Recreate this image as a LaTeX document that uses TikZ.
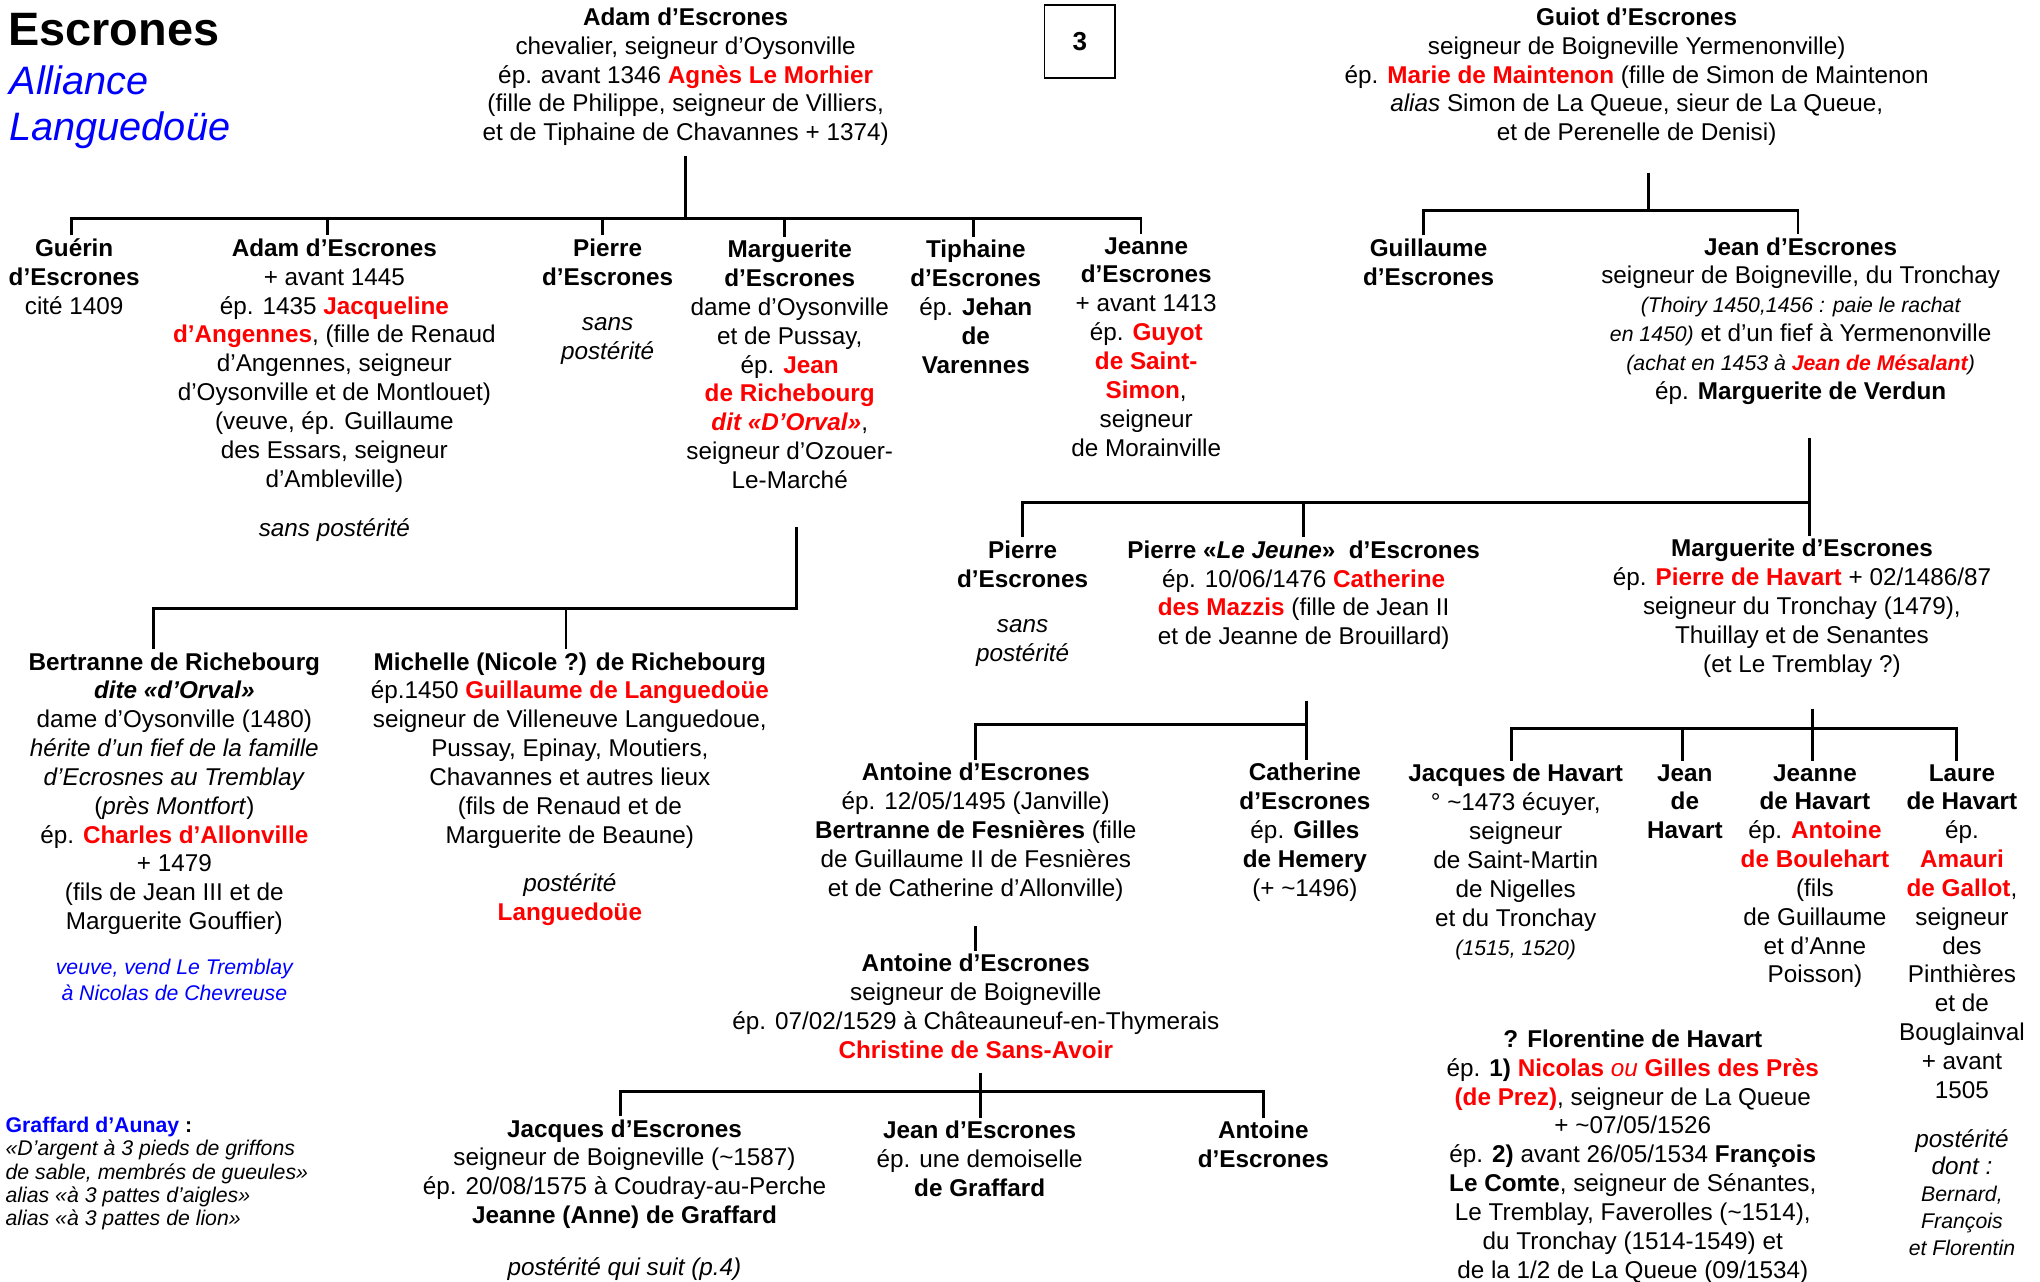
\documentclass[tikz,border=0pt]{standalone}
\usepackage{fontspec}
\setmainfont{Liberation Sans}
\definecolor{myred}{RGB}{255,0,0}
\definecolor{myblue}{RGB}{0,0,255}
\newcommand\bodyfont{\fontsize{11.2}{13.3}\selectfont}
\newcommand\smallfont{\fontsize{9.8}{12}\selectfont}
\newcommand\redb[1]{\textcolor{myred}{\bfseries #1}}
\tikzset{
  person/.style={anchor=north, align=center, inner sep=0pt, outer sep=1.5pt, font=\bodyfont},
  remark/.style={anchor=north, align=center, inner sep=0pt, font={\bodyfont\itshape}},
  link/.style={line width=1.3pt},
}
\begin{document}
\begin{tikzpicture}[x=0.6pt,y=-0.6pt]
\useasboundingbox (0,0) rectangle (1568,985);

% titles
\node[anchor=base west, inner sep=0pt, font=\fontsize{21.6}{26}\selectfont\bfseries] (title) at (6,35) {Escrones};
\node[anchor=base west, inner sep=0pt, align=left, font=\fontsize{18.3}{21}\selectfont\itshape, text=myblue] (subtitle) at (7,108) {Alliance\\Languedoüe};
\node[draw, line width=0.7pt, minimum width=32.4pt, minimum height=33.6pt, inner sep=0pt, font=\fontsize{12}{14}\selectfont\bfseries] (box3) at (830,32) {3};

% generation 1
\node[person] (adam) at (527,3.5) {\textbf{Adam d’Escrones}\\
chevalier, seigneur d’Oysonville\\
ép. avant 1346 \redb{Agnès Le Morhier}\\
(fille de Philippe, seigneur de Villiers,\\
et de Tiphaine de Chavannes + 1374)};

\node[person] (guiot) at (1258,3.5) {\textbf{Guiot d’Escrones}\\
seigneur de Boigneville Yermenonville)\\
ép. \redb{Marie de Maintenon} (fille de Simon de Maintenon\\
\textit{alias} Simon de La Queue, sieur de La Queue,\\
et de Perenelle de Denisi)};

% generation 2
\node[person] (guerin) at (57,181) {\textbf{Guérin}\\\textbf{d’Escrones}\\cité 1409};

\node[person] (adam2) at (257,181) {\textbf{Adam d’Escrones}\\
+ avant 1445\\
ép. 1435 \redb{Jacqueline}\\
\redb{d’Angennes}, (fille de Renaud\\
d’Angennes, seigneur\\
d’Oysonville et de Montlouet)\\
(veuve, ép. Guillaume\\
des Essars, seigneur\\
d’Ambleville)};
\node[remark] (adam2note) at (257,398) {sans postérité};

\node[person] (pierre1) at (467,181) {\textbf{Pierre}\\\textbf{d’Escrones}};
\node[remark] (pierre1note) at (467,244) {sans\\postérité};

\node[person] (marg1) at (607,182) {\textbf{Marguerite}\\\textbf{d’Escrones}\\
dame d’Oysonville\\
et de Pussay,\\
ép. \redb{Jean}\\
\redb{de Richebourg}\\
\redb{\itshape dit «D’Orval»},\\
seigneur d’Ozouer-\\
Le-Marché};

\node[person] (tiph) at (750,182) {\textbf{Tiphaine}\\\textbf{d’Escrones}\\ép. \textbf{Jehan}\\\textbf{de}\\\textbf{Varennes}};

\node[person] (jeanne1) at (881,180) {\textbf{Jeanne}\\\textbf{d’Escrones}\\
+ avant 1413\\
ép. \redb{Guyot}\\
\redb{de Saint-}\\
\redb{Simon},\\
seigneur\\
de Morainville};

\node[person] (guill) at (1098,181) {\textbf{Guillaume}\\\textbf{d’Escrones}};

\node[person] (jean1) at (1384,180) {\textbf{Jean d’Escrones}\\
seigneur de Boigneville, du Tronchay\\
{\smallfont\itshape (Thoiry 1450,1456 : paie le rachat}\\
{\smallfont\itshape en 1450)} et d’un fief à Yermenonville\\
{\smallfont\itshape (achat en 1453 à \redb{Jean de Mésalant})}\\
ép. \textbf{Marguerite de Verdun}};

% generation 3
\node[person] (pierre2) at (786,413) {\textbf{Pierre}\\\textbf{d’Escrones}};
\node[remark] (pierre2note) at (786,476) {sans\\postérité};

\node[person] (pierrej) at (1002,413) {\textbf{Pierre «\textit{Le Jeune}»\ \ d’Escrones}\\
ép. 10/06/1476 \redb{Catherine}\\
\redb{des Mazzis} (fille de Jean II\\
et de Jeanne de Brouillard)};

\node[person] (marg2) at (1385,412) {\textbf{Marguerite d’Escrones}\\
ép. \redb{Pierre de Havart} + 02/1486/87\\
seigneur du Tronchay (1479),\\
Thuillay et de Senantes\\
(et Le Tremblay ?)};

\node[person] (bert) at (134,499) {\textbf{Bertranne de Richebourg}\\
\textbf{\textit{dite «d’Orval»}}\\
dame d’Oysonville (1480)\\
\textit{hérite d’un fief de la famille}\\
\textit{d’Ecrosnes au Tremblay}\\
(\textit{près Montfort})\\
ép. \redb{Charles d’Allonville}\\
+ 1479\\
(fils de Jean III et de\\
Marguerite Gouffier)};
\node[remark, font=\fontsize{9.8}{12}\selectfont\itshape, text=myblue] (bertnote) at (134,737) {veuve, vend Le Tremblay\\à Nicolas de Chevreuse};

\node[person] (mich) at (438,499) {\textbf{Michelle (Nicole ?) de Richebourg}\\
ép.1450 \redb{Guillaume de Languedoüe}\\
seigneur de Villeneuve Languedoue,\\
Pussay, Epinay, Moutiers,\\
Chavannes et autres lieux\\
(fils de Renaud et de\\
Marguerite de Beaune)};
\node[remark] (michnote) at (438,671) {postérité\\\redb{\upshape Languedoüe}};

% generation 4
\node[person] (ant1) at (750,584) {\textbf{Antoine d’Escrones}\\
ép. 12/05/1495 (Janville)\\
\textbf{Bertranne de Fesnières} (fille\\
de Guillaume II de Fesnières\\
et de Catherine d’Allonville)};

\node[person] (cath) at (1003,584) {\textbf{Catherine}\\\textbf{d’Escrones}\\ép. \textbf{Gilles}\\\textbf{de Hemery}\\(+ \textasciitilde1496)};

\node[person] (jacqh) at (1165,585) {\textbf{Jacques de Havart}\\
° \textasciitilde1473 écuyer,\\
seigneur\\
de Saint-Martin\\
de Nigelles\\
et du Tronchay\\
{\smallfont\itshape (1515, 1520)}};

\node[person] (jeanh) at (1295,585) {\textbf{Jean}\\\textbf{de}\\\textbf{Havart}};

\node[person] (jeanneh) at (1395,585) {\textbf{Jeanne}\\\textbf{de Havart}\\
ép. \redb{Antoine}\\
\redb{de Boulehart}\\
(fils\\
de Guillaume\\
et d’Anne\\
Poisson)};

\node[person] (laure) at (1508,585) {\textbf{Laure}\\\textbf{de Havart}\\
ép.\\
\redb{Amauri}\\
\redb{de Gallot},\\
seigneur\\
des\\
Pinthières\\
et de\\
Bouglainval\\
+ avant\\
1505};
\node[remark, font=\fontsize{11.2}{12.4}\selectfont\itshape] (laurenote) at (1508,868) {postérité\\dont :\\{\smallfont Bernard,}\\{\smallfont François}\\{\smallfont et Florentin}};

\node[person] (ant2) at (750,731) {\textbf{Antoine d’Escrones}\\
seigneur de Boigneville\\
ép. 07/02/1529 à Châteauneuf-en-Thymerais\\
\redb{Christine de Sans-Avoir}};

\node[person] (flor) at (1255,789) {\textbf{? Florentine de Havart}\\
ép. \textbf{1)} \redb{Nicolas {\mdseries\itshape ou} Gilles des Près}\\
\redb{(de Prez)}, seigneur de La Queue\\
+ \textasciitilde07/05/1526\\
ép. \textbf{2)} avant 26/05/1534 \textbf{François}\\
\textbf{Le Comte}, seigneur de Sénantes,\\
Le Tremblay, Faverolles (\textasciitilde1514),\\
du Tronchay (1514-1549) et\\
de la 1/2 de La Queue (09/1534)};

% generation 5
\node[anchor=base west, align=left, inner sep=0pt, font=\fontsize{9.8}{10.7}\selectfont] (graff) at (4,942) {{\color{myblue}\bfseries Graffard d’Aunay} \textbf{:}\\
\textit{«D’argent à 3 pieds de griffons}\\
\textit{de sable, membrés de gueules»}\\
\textit{alias «à 3 pattes d’aigles»}\\
\textit{alias «à 3 pattes de lion»}};

\node[person] (jacqE) at (480,858) {\textbf{Jacques d’Escrones}\\
seigneur de Boigneville (\textasciitilde1587)\\
ép. 20/08/1575 à Coudray-au-Perche\\
\textbf{Jeanne (Anne) de Graffard}};
\node[remark] (jacqEnote) at (480,966) {postérité qui suit (p.4)};

\node[person] (jeanE3) at (753,859) {\textbf{Jean d’Escrones}\\ép. une demoiselle\\\textbf{de Graffard}};
\node[person] (antE3) at (971,859) {\textbf{Antoine}\\\textbf{d’Escrones}};

% drop points (top ends of the connectors above each child)
\coordinate (d-guerin) at ([xshift=-1.2pt]guerin.north);
\coordinate (d-adam2) at ([xshift=-3pt]adam2.north);
\coordinate (d-pierre1) at ([xshift=-2.4pt]pierre1.north);
\coordinate (d-marg1) at ([xshift=-2.4pt]marg1.north);
\coordinate (d-tiph) at ([xshift=-1.2pt]tiph.north);
\coordinate (d-jeanne1) at ([xshift=-2.4pt]jeanne1.north);
\coordinate (d-guill) at ([xshift=-2.4pt]guill.north);
\coordinate (d-jean1) at ([xshift=-1.2pt]jean1.north);
\coordinate (d-jacqh) at ([xshift=-1.8pt]jacqh.north);
\coordinate (d-jeanh) at ([xshift=-1.2pt]jeanh.north);
\coordinate (d-laure) at ([xshift=-2.4pt]laure.north);
\coordinate (d-jacqE) at ([xshift=-1.8pt]jacqE.north);
\coordinate (d-mich) at ([xshift=-1.8pt]mich.north);
\coordinate (d-bert) at ([xshift=-9.6pt]bert.north);

% connectors
\coordinate (bar1) at (0,168);
\coordinate (av) at ([yshift=-3pt]adam.south);
\draw[link] (av) -- (av |- bar1);
\draw[link] (d-guerin) -- (d-guerin |- bar1) -- (d-jeanne1 |- bar1) -- (d-jeanne1);
\foreach \n in {adam2,pierre1,marg1,tiph} \draw[link] (d-\n |- bar1) -- (d-\n);

\coordinate (bar2) at (0,162);
\coordinate (gv) at ([xshift=5.4pt,yshift=-11pt]guiot.south);
\draw[link] (gv) -- (gv |- bar2);
\draw[link] (d-guill) -- (d-guill |- bar2) -- (d-jean1 |- bar2) -- (d-jean1);

\coordinate (bar3) at (0,386);
\coordinate (jv) at ([xshift=4.2pt,yshift=-14pt]jean1.south);
\draw[link] (jv) -- (jv |- marg2.north);
\draw[link] (pierre2.north) -- (pierre2.north |- bar3) -- (jv |- bar3);
\draw[link] (pierrej.north |- bar3) -- (pierrej.north);

\coordinate (bar4) at (0,468);
\coordinate (mv) at ([xshift=3pt,yshift=-16pt]marg1.south);
\draw[link] (d-bert) -- (d-bert |- bar4) -- (mv |- bar4) -- (mv);
\draw[link] (d-mich |- bar4) -- (d-mich);

\coordinate (bar5) at (0,557);
\coordinate (pv) at ([xshift=1.2pt,yshift=-22pt]pierrej.south);
\draw[link] (pv) -- (pv |- cath.north);
\draw[link] (ant1.north) -- (ant1.north |- bar5) -- (pv |- bar5);

\coordinate (bar6) at (0,560);
\coordinate (hv) at ([xshift=5pt,yshift=-13pt]marg2.south);
\draw[link] (hv) -- (hv |- jeanneh.north);
\draw[link] (d-jacqh) -- (d-jacqh |- bar6) -- (d-laure |- bar6) -- (d-laure);
\draw[link] (d-jeanh |- bar6) -- (d-jeanh);

\draw[link] ([yshift=-10pt]ant1.south) -- (ant1.south |- ant2.north);

\coordinate (bar7) at (0,839);
\coordinate (a2v) at ([xshift=2pt,yshift=-5pt]ant2.south);
\draw[link] (a2v) -- (a2v |- jeanE3.north);
\draw[link] (d-jacqE) -- (d-jacqE |- bar7) -- (antE3.north |- bar7) -- (antE3.north);
\end{tikzpicture}
\end{document}
